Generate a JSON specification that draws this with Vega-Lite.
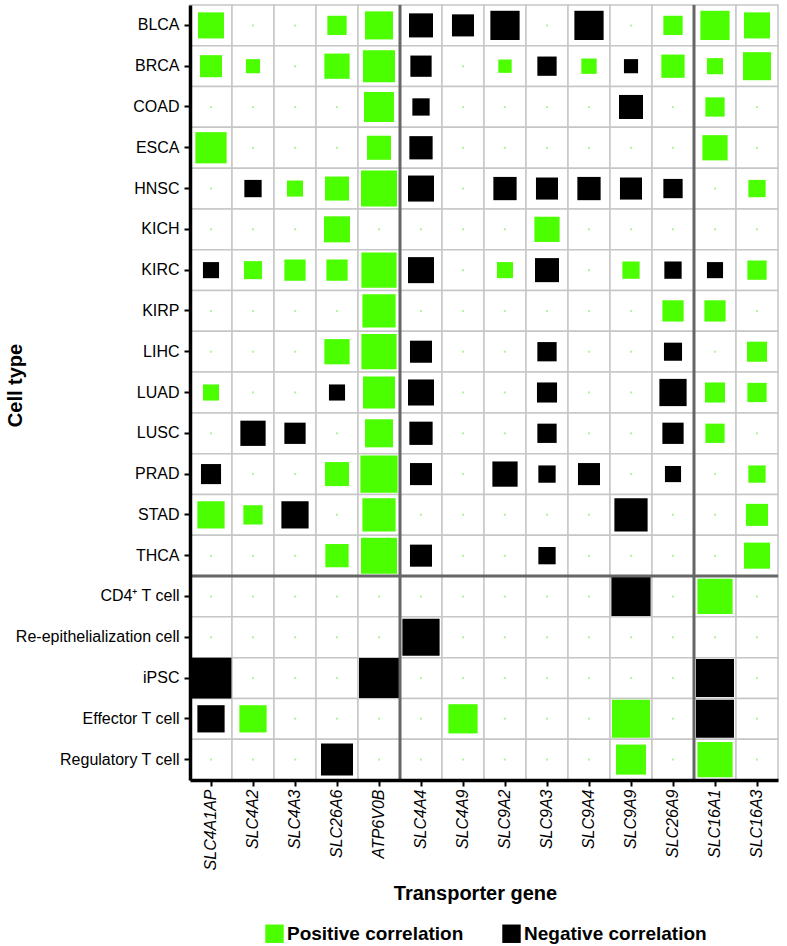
{
"$schema": "https://vega.github.io/schema/vega-lite/v6.json",
"autosize": {"type": "none"},
"width": 588,
"height": 775,
"padding": {"left": 190, "top": 5, "right": 9, "bottom": 166},
"background": "white",
"config": {
  "font": "Liberation Sans",
  "view": {"stroke": null},
  "axis": {"grid": false, "domainColor": "#000000", "domainWidth": 3.5, "tickColor": "#000000", "tickWidth": 2, "tickSize": 6, "labelColor": "#000000", "labelFontSize": 16, "titleColor": "#000000", "titleFontSize": 20, "titleFontWeight": "bold"}
},
"datasets": {
  "cells": [
    {"cell":"BLCA","gene":"SLC4A1AP","r":0.65,"dir":"pos"},{"cell":"BLCA","gene":"SLC4A2","r":0,"dir":"none"},{"cell":"BLCA","gene":"SLC4A3","r":0,"dir":"none"},{"cell":"BLCA","gene":"SLC26A6","r":0.48,"dir":"pos"},{"cell":"BLCA","gene":"ATP6V0B","r":0.7,"dir":"pos"},{"cell":"BLCA","gene":"SLC4A4","r":0.6,"dir":"neg"},{"cell":"BLCA","gene":"SLC4A9","r":0.55,"dir":"neg"},{"cell":"BLCA","gene":"SLC9A2","r":0.73,"dir":"neg"},{"cell":"BLCA","gene":"SLC9A3","r":0,"dir":"none"},{"cell":"BLCA","gene":"SLC9A4","r":0.73,"dir":"neg"},{"cell":"BLCA","gene":"SLC9A9","r":0,"dir":"none"},{"cell":"BLCA","gene":"SLC26A9","r":0.48,"dir":"pos"},{"cell":"BLCA","gene":"SLC16A1","r":0.73,"dir":"pos"},{"cell":"BLCA","gene":"SLC16A3","r":0.65,"dir":"pos"},
    {"cell":"BRCA","gene":"SLC4A1AP","r":0.55,"dir":"pos"},{"cell":"BRCA","gene":"SLC4A2","r":0.35,"dir":"pos"},{"cell":"BRCA","gene":"SLC4A3","r":0,"dir":"none"},{"cell":"BRCA","gene":"SLC26A6","r":0.63,"dir":"pos"},{"cell":"BRCA","gene":"ATP6V0B","r":0.8,"dir":"pos"},{"cell":"BRCA","gene":"SLC4A4","r":0.53,"dir":"neg"},{"cell":"BRCA","gene":"SLC4A9","r":0,"dir":"none"},{"cell":"BRCA","gene":"SLC9A2","r":0.33,"dir":"pos"},{"cell":"BRCA","gene":"SLC9A3","r":0.48,"dir":"neg"},{"cell":"BRCA","gene":"SLC9A4","r":0.38,"dir":"pos"},{"cell":"BRCA","gene":"SLC9A9","r":0.35,"dir":"neg"},{"cell":"BRCA","gene":"SLC26A9","r":0.58,"dir":"pos"},{"cell":"BRCA","gene":"SLC16A1","r":0.4,"dir":"pos"},{"cell":"BRCA","gene":"SLC16A3","r":0.7,"dir":"pos"},
    {"cell":"COAD","gene":"SLC4A1AP","r":0,"dir":"none"},{"cell":"COAD","gene":"SLC4A2","r":0,"dir":"none"},{"cell":"COAD","gene":"SLC4A3","r":0,"dir":"none"},{"cell":"COAD","gene":"SLC26A6","r":0,"dir":"none"},{"cell":"COAD","gene":"ATP6V0B","r":0.75,"dir":"pos"},{"cell":"COAD","gene":"SLC4A4","r":0.43,"dir":"neg"},{"cell":"COAD","gene":"SLC4A9","r":0,"dir":"none"},{"cell":"COAD","gene":"SLC9A2","r":0,"dir":"none"},{"cell":"COAD","gene":"SLC9A3","r":0,"dir":"none"},{"cell":"COAD","gene":"SLC9A4","r":0,"dir":"none"},{"cell":"COAD","gene":"SLC9A9","r":0.6,"dir":"neg"},{"cell":"COAD","gene":"SLC26A9","r":0,"dir":"none"},{"cell":"COAD","gene":"SLC16A1","r":0.48,"dir":"pos"},{"cell":"COAD","gene":"SLC16A3","r":0,"dir":"none"},
    {"cell":"ESCA","gene":"SLC4A1AP","r":0.78,"dir":"pos"},{"cell":"ESCA","gene":"SLC4A2","r":0,"dir":"none"},{"cell":"ESCA","gene":"SLC4A3","r":0,"dir":"none"},{"cell":"ESCA","gene":"SLC26A6","r":0,"dir":"none"},{"cell":"ESCA","gene":"ATP6V0B","r":0.6,"dir":"pos"},{"cell":"ESCA","gene":"SLC4A4","r":0.58,"dir":"neg"},{"cell":"ESCA","gene":"SLC4A9","r":0,"dir":"none"},{"cell":"ESCA","gene":"SLC9A2","r":0,"dir":"none"},{"cell":"ESCA","gene":"SLC9A3","r":0,"dir":"none"},{"cell":"ESCA","gene":"SLC9A4","r":0,"dir":"none"},{"cell":"ESCA","gene":"SLC9A9","r":0,"dir":"none"},{"cell":"ESCA","gene":"SLC26A9","r":0,"dir":"none"},{"cell":"ESCA","gene":"SLC16A1","r":0.63,"dir":"pos"},{"cell":"ESCA","gene":"SLC16A3","r":0,"dir":"none"},
    {"cell":"HNSC","gene":"SLC4A1AP","r":0,"dir":"none"},{"cell":"HNSC","gene":"SLC4A2","r":0.43,"dir":"neg"},{"cell":"HNSC","gene":"SLC4A3","r":0.4,"dir":"pos"},{"cell":"HNSC","gene":"SLC26A6","r":0.6,"dir":"pos"},{"cell":"HNSC","gene":"ATP6V0B","r":0.9,"dir":"pos"},{"cell":"HNSC","gene":"SLC4A4","r":0.65,"dir":"neg"},{"cell":"HNSC","gene":"SLC4A9","r":0,"dir":"none"},{"cell":"HNSC","gene":"SLC9A2","r":0.58,"dir":"neg"},{"cell":"HNSC","gene":"SLC9A3","r":0.55,"dir":"neg"},{"cell":"HNSC","gene":"SLC9A4","r":0.58,"dir":"neg"},{"cell":"HNSC","gene":"SLC9A9","r":0.55,"dir":"neg"},{"cell":"HNSC","gene":"SLC26A9","r":0.48,"dir":"neg"},{"cell":"HNSC","gene":"SLC16A1","r":0,"dir":"none"},{"cell":"HNSC","gene":"SLC16A3","r":0.43,"dir":"pos"},
    {"cell":"KICH","gene":"SLC4A1AP","r":0,"dir":"none"},{"cell":"KICH","gene":"SLC4A2","r":0,"dir":"none"},{"cell":"KICH","gene":"SLC4A3","r":0,"dir":"none"},{"cell":"KICH","gene":"SLC26A6","r":0.65,"dir":"pos"},{"cell":"KICH","gene":"ATP6V0B","r":0,"dir":"none"},{"cell":"KICH","gene":"SLC4A4","r":0,"dir":"none"},{"cell":"KICH","gene":"SLC4A9","r":0,"dir":"none"},{"cell":"KICH","gene":"SLC9A2","r":0,"dir":"none"},{"cell":"KICH","gene":"SLC9A3","r":0.63,"dir":"pos"},{"cell":"KICH","gene":"SLC9A4","r":0,"dir":"none"},{"cell":"KICH","gene":"SLC9A9","r":0,"dir":"none"},{"cell":"KICH","gene":"SLC26A9","r":0,"dir":"none"},{"cell":"KICH","gene":"SLC16A1","r":0,"dir":"none"},{"cell":"KICH","gene":"SLC16A3","r":0,"dir":"none"},
    {"cell":"KIRC","gene":"SLC4A1AP","r":0.4,"dir":"neg"},{"cell":"KIRC","gene":"SLC4A2","r":0.45,"dir":"pos"},{"cell":"KIRC","gene":"SLC4A3","r":0.53,"dir":"pos"},{"cell":"KIRC","gene":"SLC26A6","r":0.53,"dir":"pos"},{"cell":"KIRC","gene":"ATP6V0B","r":0.88,"dir":"pos"},{"cell":"KIRC","gene":"SLC4A4","r":0.65,"dir":"neg"},{"cell":"KIRC","gene":"SLC4A9","r":0,"dir":"none"},{"cell":"KIRC","gene":"SLC9A2","r":0.4,"dir":"pos"},{"cell":"KIRC","gene":"SLC9A3","r":0.6,"dir":"neg"},{"cell":"KIRC","gene":"SLC9A4","r":0,"dir":"none"},{"cell":"KIRC","gene":"SLC9A9","r":0.43,"dir":"pos"},{"cell":"KIRC","gene":"SLC26A9","r":0.43,"dir":"neg"},{"cell":"KIRC","gene":"SLC16A1","r":0.4,"dir":"neg"},{"cell":"KIRC","gene":"SLC16A3","r":0.48,"dir":"pos"},
    {"cell":"KIRP","gene":"SLC4A1AP","r":0,"dir":"none"},{"cell":"KIRP","gene":"SLC4A2","r":0,"dir":"none"},{"cell":"KIRP","gene":"SLC4A3","r":0,"dir":"none"},{"cell":"KIRP","gene":"SLC26A6","r":0,"dir":"none"},{"cell":"KIRP","gene":"ATP6V0B","r":0.83,"dir":"pos"},{"cell":"KIRP","gene":"SLC4A4","r":0,"dir":"none"},{"cell":"KIRP","gene":"SLC4A9","r":0,"dir":"none"},{"cell":"KIRP","gene":"SLC9A2","r":0,"dir":"none"},{"cell":"KIRP","gene":"SLC9A3","r":0,"dir":"none"},{"cell":"KIRP","gene":"SLC9A4","r":0,"dir":"none"},{"cell":"KIRP","gene":"SLC9A9","r":0,"dir":"none"},{"cell":"KIRP","gene":"SLC26A9","r":0.53,"dir":"pos"},{"cell":"KIRP","gene":"SLC16A1","r":0.53,"dir":"pos"},{"cell":"KIRP","gene":"SLC16A3","r":0,"dir":"none"},
    {"cell":"LIHC","gene":"SLC4A1AP","r":0,"dir":"none"},{"cell":"LIHC","gene":"SLC4A2","r":0,"dir":"none"},{"cell":"LIHC","gene":"SLC4A3","r":0,"dir":"none"},{"cell":"LIHC","gene":"SLC26A6","r":0.63,"dir":"pos"},{"cell":"LIHC","gene":"ATP6V0B","r":0.88,"dir":"pos"},{"cell":"LIHC","gene":"SLC4A4","r":0.55,"dir":"neg"},{"cell":"LIHC","gene":"SLC4A9","r":0,"dir":"none"},{"cell":"LIHC","gene":"SLC9A2","r":0,"dir":"none"},{"cell":"LIHC","gene":"SLC9A3","r":0.48,"dir":"neg"},{"cell":"LIHC","gene":"SLC9A4","r":0,"dir":"none"},{"cell":"LIHC","gene":"SLC9A9","r":0,"dir":"none"},{"cell":"LIHC","gene":"SLC26A9","r":0.45,"dir":"neg"},{"cell":"LIHC","gene":"SLC16A1","r":0,"dir":"none"},{"cell":"LIHC","gene":"SLC16A3","r":0.5,"dir":"pos"},
    {"cell":"LUAD","gene":"SLC4A1AP","r":0.4,"dir":"pos"},{"cell":"LUAD","gene":"SLC4A2","r":0,"dir":"none"},{"cell":"LUAD","gene":"SLC4A3","r":0,"dir":"none"},{"cell":"LUAD","gene":"SLC26A6","r":0.4,"dir":"neg"},{"cell":"LUAD","gene":"ATP6V0B","r":0.8,"dir":"pos"},{"cell":"LUAD","gene":"SLC4A4","r":0.65,"dir":"neg"},{"cell":"LUAD","gene":"SLC4A9","r":0,"dir":"none"},{"cell":"LUAD","gene":"SLC9A2","r":0,"dir":"none"},{"cell":"LUAD","gene":"SLC9A3","r":0.5,"dir":"neg"},{"cell":"LUAD","gene":"SLC9A4","r":0,"dir":"none"},{"cell":"LUAD","gene":"SLC9A9","r":0,"dir":"none"},{"cell":"LUAD","gene":"SLC26A9","r":0.68,"dir":"neg"},{"cell":"LUAD","gene":"SLC16A1","r":0.5,"dir":"pos"},{"cell":"LUAD","gene":"SLC16A3","r":0.48,"dir":"pos"},
    {"cell":"LUSC","gene":"SLC4A1AP","r":0,"dir":"none"},{"cell":"LUSC","gene":"SLC4A2","r":0.63,"dir":"neg"},{"cell":"LUSC","gene":"SLC4A3","r":0.53,"dir":"neg"},{"cell":"LUSC","gene":"SLC26A6","r":0,"dir":"none"},{"cell":"LUSC","gene":"ATP6V0B","r":0.7,"dir":"pos"},{"cell":"LUSC","gene":"SLC4A4","r":0.58,"dir":"neg"},{"cell":"LUSC","gene":"SLC4A9","r":0,"dir":"none"},{"cell":"LUSC","gene":"SLC9A2","r":0,"dir":"none"},{"cell":"LUSC","gene":"SLC9A3","r":0.48,"dir":"neg"},{"cell":"LUSC","gene":"SLC9A4","r":0,"dir":"none"},{"cell":"LUSC","gene":"SLC9A9","r":0,"dir":"none"},{"cell":"LUSC","gene":"SLC26A9","r":0.53,"dir":"neg"},{"cell":"LUSC","gene":"SLC16A1","r":0.48,"dir":"pos"},{"cell":"LUSC","gene":"SLC16A3","r":0,"dir":"none"},
    {"cell":"PRAD","gene":"SLC4A1AP","r":0.5,"dir":"neg"},{"cell":"PRAD","gene":"SLC4A2","r":0,"dir":"none"},{"cell":"PRAD","gene":"SLC4A3","r":0,"dir":"none"},{"cell":"PRAD","gene":"SLC26A6","r":0.6,"dir":"pos"},{"cell":"PRAD","gene":"ATP6V0B","r":0.93,"dir":"pos"},{"cell":"PRAD","gene":"SLC4A4","r":0.55,"dir":"neg"},{"cell":"PRAD","gene":"SLC4A9","r":0,"dir":"none"},{"cell":"PRAD","gene":"SLC9A2","r":0.63,"dir":"neg"},{"cell":"PRAD","gene":"SLC9A3","r":0.43,"dir":"neg"},{"cell":"PRAD","gene":"SLC9A4","r":0.55,"dir":"neg"},{"cell":"PRAD","gene":"SLC9A9","r":0,"dir":"none"},{"cell":"PRAD","gene":"SLC26A9","r":0.4,"dir":"neg"},{"cell":"PRAD","gene":"SLC16A1","r":0,"dir":"none"},{"cell":"PRAD","gene":"SLC16A3","r":0.43,"dir":"pos"},
    {"cell":"STAD","gene":"SLC4A1AP","r":0.68,"dir":"pos"},{"cell":"STAD","gene":"SLC4A2","r":0.48,"dir":"pos"},{"cell":"STAD","gene":"SLC4A3","r":0.68,"dir":"neg"},{"cell":"STAD","gene":"SLC26A6","r":0,"dir":"none"},{"cell":"STAD","gene":"ATP6V0B","r":0.83,"dir":"pos"},{"cell":"STAD","gene":"SLC4A4","r":0,"dir":"none"},{"cell":"STAD","gene":"SLC4A9","r":0,"dir":"none"},{"cell":"STAD","gene":"SLC9A2","r":0,"dir":"none"},{"cell":"STAD","gene":"SLC9A3","r":0,"dir":"none"},{"cell":"STAD","gene":"SLC9A4","r":0,"dir":"none"},{"cell":"STAD","gene":"SLC9A9","r":0.83,"dir":"neg"},{"cell":"STAD","gene":"SLC26A9","r":0,"dir":"none"},{"cell":"STAD","gene":"SLC16A1","r":0,"dir":"none"},{"cell":"STAD","gene":"SLC16A3","r":0.55,"dir":"pos"},
    {"cell":"THCA","gene":"SLC4A1AP","r":0,"dir":"none"},{"cell":"THCA","gene":"SLC4A2","r":0,"dir":"none"},{"cell":"THCA","gene":"SLC4A3","r":0,"dir":"none"},{"cell":"THCA","gene":"SLC26A6","r":0.58,"dir":"pos"},{"cell":"THCA","gene":"ATP6V0B","r":0.9,"dir":"pos"},{"cell":"THCA","gene":"SLC4A4","r":0.55,"dir":"neg"},{"cell":"THCA","gene":"SLC4A9","r":0,"dir":"none"},{"cell":"THCA","gene":"SLC9A2","r":0,"dir":"none"},{"cell":"THCA","gene":"SLC9A3","r":0.43,"dir":"neg"},{"cell":"THCA","gene":"SLC9A4","r":0,"dir":"none"},{"cell":"THCA","gene":"SLC9A9","r":0,"dir":"none"},{"cell":"THCA","gene":"SLC26A9","r":0,"dir":"none"},{"cell":"THCA","gene":"SLC16A1","r":0,"dir":"none"},{"cell":"THCA","gene":"SLC16A3","r":0.65,"dir":"pos"},
    {"cell":"CD4⁺ T cell","gene":"SLC4A1AP","r":0,"dir":"none"},{"cell":"CD4⁺ T cell","gene":"SLC4A2","r":0,"dir":"none"},{"cell":"CD4⁺ T cell","gene":"SLC4A3","r":0,"dir":"none"},{"cell":"CD4⁺ T cell","gene":"SLC26A6","r":0,"dir":"none"},{"cell":"CD4⁺ T cell","gene":"ATP6V0B","r":0,"dir":"none"},{"cell":"CD4⁺ T cell","gene":"SLC4A4","r":0,"dir":"none"},{"cell":"CD4⁺ T cell","gene":"SLC4A9","r":0,"dir":"none"},{"cell":"CD4⁺ T cell","gene":"SLC9A2","r":0,"dir":"none"},{"cell":"CD4⁺ T cell","gene":"SLC9A3","r":0,"dir":"none"},{"cell":"CD4⁺ T cell","gene":"SLC9A4","r":0,"dir":"none"},{"cell":"CD4⁺ T cell","gene":"SLC9A9","r":0.98,"dir":"neg"},{"cell":"CD4⁺ T cell","gene":"SLC26A9","r":0,"dir":"none"},{"cell":"CD4⁺ T cell","gene":"SLC16A1","r":0.88,"dir":"pos"},{"cell":"CD4⁺ T cell","gene":"SLC16A3","r":0,"dir":"none"},
    {"cell":"Re-epithelialization cell","gene":"SLC4A1AP","r":0,"dir":"none"},{"cell":"Re-epithelialization cell","gene":"SLC4A2","r":0,"dir":"none"},{"cell":"Re-epithelialization cell","gene":"SLC4A3","r":0,"dir":"none"},{"cell":"Re-epithelialization cell","gene":"SLC26A6","r":0,"dir":"none"},{"cell":"Re-epithelialization cell","gene":"ATP6V0B","r":0,"dir":"none"},{"cell":"Re-epithelialization cell","gene":"SLC4A4","r":0.93,"dir":"neg"},{"cell":"Re-epithelialization cell","gene":"SLC4A9","r":0,"dir":"none"},{"cell":"Re-epithelialization cell","gene":"SLC9A2","r":0,"dir":"none"},{"cell":"Re-epithelialization cell","gene":"SLC9A3","r":0,"dir":"none"},{"cell":"Re-epithelialization cell","gene":"SLC9A4","r":0,"dir":"none"},{"cell":"Re-epithelialization cell","gene":"SLC9A9","r":0,"dir":"none"},{"cell":"Re-epithelialization cell","gene":"SLC26A9","r":0,"dir":"none"},{"cell":"Re-epithelialization cell","gene":"SLC16A1","r":0,"dir":"none"},{"cell":"Re-epithelialization cell","gene":"SLC16A3","r":0,"dir":"none"},
    {"cell":"iPSC","gene":"SLC4A1AP","r":1.02,"dir":"neg"},{"cell":"iPSC","gene":"SLC4A2","r":0,"dir":"none"},{"cell":"iPSC","gene":"SLC4A3","r":0,"dir":"none"},{"cell":"iPSC","gene":"SLC26A6","r":0,"dir":"none"},{"cell":"iPSC","gene":"ATP6V0B","r":1.0,"dir":"neg"},{"cell":"iPSC","gene":"SLC4A4","r":0,"dir":"none"},{"cell":"iPSC","gene":"SLC4A9","r":0,"dir":"none"},{"cell":"iPSC","gene":"SLC9A2","r":0,"dir":"none"},{"cell":"iPSC","gene":"SLC9A3","r":0,"dir":"none"},{"cell":"iPSC","gene":"SLC9A4","r":0,"dir":"none"},{"cell":"iPSC","gene":"SLC9A9","r":0,"dir":"none"},{"cell":"iPSC","gene":"SLC26A9","r":0,"dir":"none"},{"cell":"iPSC","gene":"SLC16A1","r":0.95,"dir":"neg"},{"cell":"iPSC","gene":"SLC16A3","r":0,"dir":"none"},
    {"cell":"Effector T cell","gene":"SLC4A1AP","r":0.68,"dir":"neg"},{"cell":"Effector T cell","gene":"SLC4A2","r":0.68,"dir":"pos"},{"cell":"Effector T cell","gene":"SLC4A3","r":0,"dir":"none"},{"cell":"Effector T cell","gene":"SLC26A6","r":0,"dir":"none"},{"cell":"Effector T cell","gene":"ATP6V0B","r":0,"dir":"none"},{"cell":"Effector T cell","gene":"SLC4A4","r":0,"dir":"none"},{"cell":"Effector T cell","gene":"SLC4A9","r":0.73,"dir":"pos"},{"cell":"Effector T cell","gene":"SLC9A2","r":0,"dir":"none"},{"cell":"Effector T cell","gene":"SLC9A3","r":0,"dir":"none"},{"cell":"Effector T cell","gene":"SLC9A4","r":0,"dir":"none"},{"cell":"Effector T cell","gene":"SLC9A9","r":0.95,"dir":"pos"},{"cell":"Effector T cell","gene":"SLC26A9","r":0,"dir":"none"},{"cell":"Effector T cell","gene":"SLC16A1","r":0.95,"dir":"neg"},{"cell":"Effector T cell","gene":"SLC16A3","r":0,"dir":"none"},
    {"cell":"Regulatory T cell","gene":"SLC4A1AP","r":0,"dir":"none"},{"cell":"Regulatory T cell","gene":"SLC4A2","r":0,"dir":"none"},{"cell":"Regulatory T cell","gene":"SLC4A3","r":0,"dir":"none"},{"cell":"Regulatory T cell","gene":"SLC26A6","r":0.8,"dir":"neg"},{"cell":"Regulatory T cell","gene":"ATP6V0B","r":0,"dir":"none"},{"cell":"Regulatory T cell","gene":"SLC4A4","r":0,"dir":"none"},{"cell":"Regulatory T cell","gene":"SLC4A9","r":0,"dir":"none"},{"cell":"Regulatory T cell","gene":"SLC9A2","r":0,"dir":"none"},{"cell":"Regulatory T cell","gene":"SLC9A3","r":0,"dir":"none"},{"cell":"Regulatory T cell","gene":"SLC9A4","r":0,"dir":"none"},{"cell":"Regulatory T cell","gene":"SLC9A9","r":0.75,"dir":"pos"},{"cell":"Regulatory T cell","gene":"SLC26A9","r":0,"dir":"none"},{"cell":"Regulatory T cell","gene":"SLC16A1","r":0.88,"dir":"pos"},{"cell":"Regulatory T cell","gene":"SLC16A3","r":0,"dir":"none"}
  ],
  "vsep": [{"gene": "SLC4A4"}, {"gene": "SLC16A1"}],
  "hsep": [{"cell": "CD4⁺ T cell"}]
},
"layer": [
  {
    "data": {"name": "cells"},
    "mark": {"type": "rect", "fill": "#ffffff", "stroke": "#c6c6c6", "strokeWidth": 1.5},
    "encoding": {
      "x": {"field": "gene", "type": "nominal", "sort": null,
        "scale": {"domain": ["SLC4A1AP","SLC4A2","SLC4A3","SLC26A6","ATP6V0B","SLC4A4","SLC4A9","SLC9A2","SLC9A3","SLC9A4","SLC9A9","SLC26A9","SLC16A1","SLC16A3"], "paddingInner": 0, "paddingOuter": 0},
        "axis": {"title": "Transporter gene", "labelAngle": -90, "labelFontStyle": "italic", "labelPadding": 3, "titleY": 113, "titleX": 285, "titleBaseline": "middle"}},
      "y": {"field": "cell", "type": "nominal", "sort": null,
        "scale": {"domain": ["BLCA","BRCA","COAD","ESCA","HNSC","KICH","KIRC","KIRP","LIHC","LUAD","LUSC","PRAD","STAD","THCA","CD4⁺ T cell","Re-epithelialization cell","iPSC","Effector T cell","Regulatory T cell"], "paddingInner": 0, "paddingOuter": 0},
        "axis": {"title": "Cell type", "labelPadding": 5, "titleX": -175, "titleY": 380, "titleBaseline": "middle"}}
    }
  },
  {
    "data": {"name": "cells"},
    "mark": {"type": "square", "filled": true, "opacity": 1},
    "encoding": {
      "x": {"field": "gene", "type": "nominal", "sort": null, "title": "Transporter gene"},
      "y": {"field": "cell", "type": "nominal", "sort": null, "title": "Cell type"},
      "size": {"field": "r", "type": "quantitative", "scale": {"type": "pow", "exponent": 2, "domain": [0, 1], "range": [4, 1600]}, "legend": null},
      "color": {"field": "dir", "type": "nominal",
        "scale": {"domain": ["pos", "neg", "none"], "range": ["#4cff00", "#000000", "#b2f59a"]},
        "legend": {"values": ["pos", "neg"], "title": null, "orient": "none", "direction": "horizontal", "legendX": 75, "legendY": 919,
          "symbolType": "square", "symbolSize": 340, "symbolStrokeWidth": 0, "symbolOpacity": 1,
          "labelFontSize": 19, "labelFontWeight": "bold", "labelColor": "#000000", "labelOffset": 3, "labelLimit": 400, "columnPadding": 38,
          "labelExpr": "datum.label == 'pos' ? 'Positive correlation' : 'Negative correlation'"}}
    }
  },
  {
    "data": {"name": "vsep"},
    "mark": {"type": "rule", "color": "#666666", "strokeWidth": 3},
    "encoding": {"x": {"field": "gene", "type": "nominal", "bandPosition": 0, "sort": null, "title": "Transporter gene"}}
  },
  {
    "data": {"name": "hsep"},
    "mark": {"type": "rule", "color": "#666666", "strokeWidth": 3},
    "encoding": {"y": {"field": "cell", "type": "nominal", "bandPosition": 0, "sort": null, "title": "Cell type"}}
  }
]
}
